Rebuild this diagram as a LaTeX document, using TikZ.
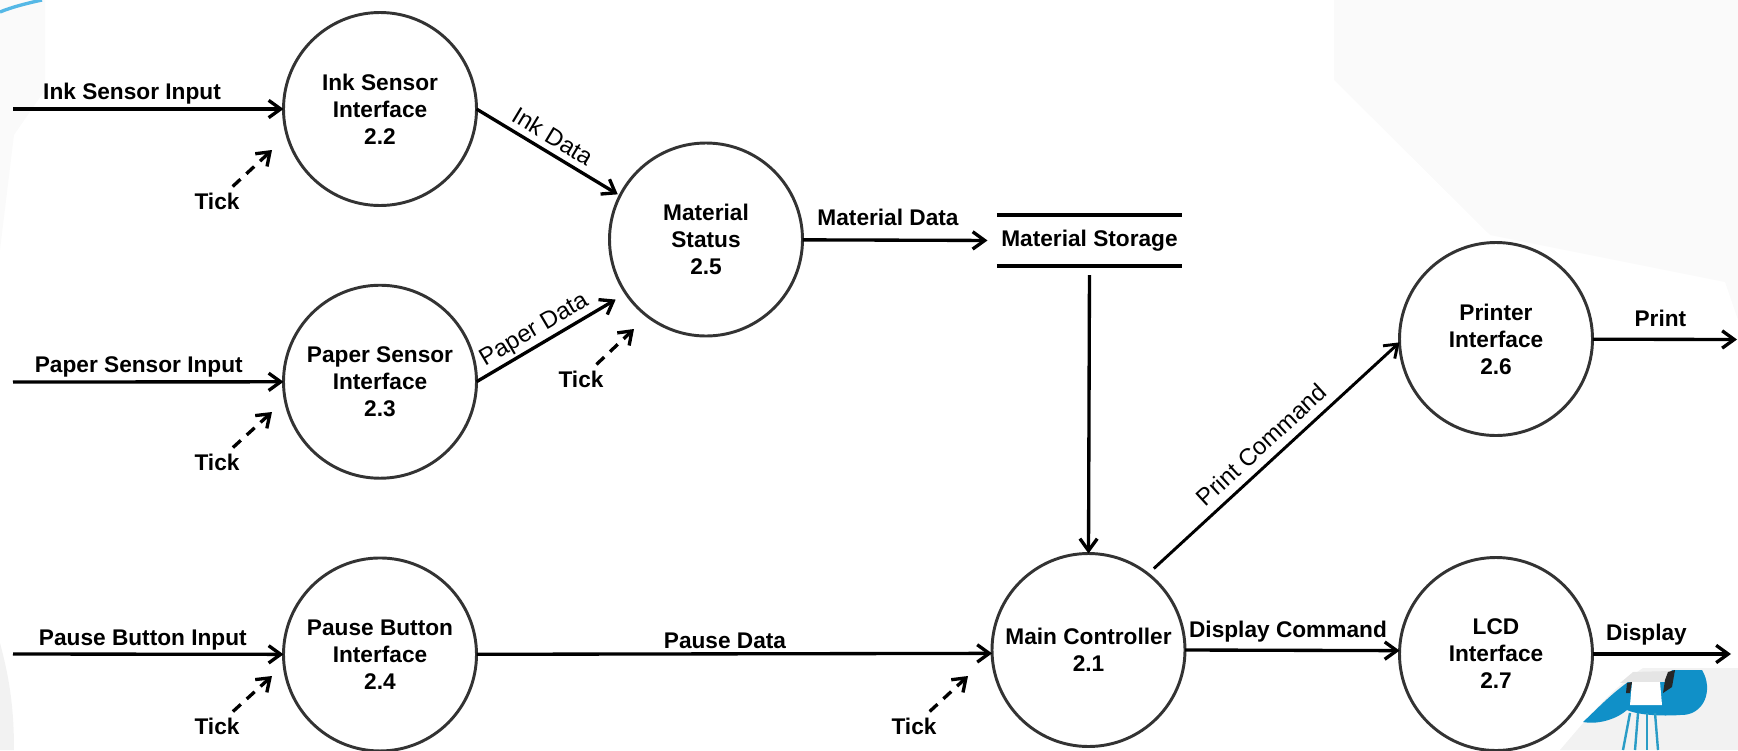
\documentclass[tikz,border=0pt]{standalone}
\usepackage{fontspec}
\setmainfont{Liberation Sans}
\usepackage{tikz}
\usetikzlibrary{arrows.meta, positioning}
\definecolor{logoblue}{HTML}{1090C8}
\definecolor{legblue}{HTML}{2A9CC6}
\definecolor{swoosh}{HTML}{55B8E6}

\begin{document}
\begin{tikzpicture}[
                                x=0.75pt,
                                y=-0.75pt,
                                ->,
                                >={Straight Barb[length=9pt,width=13pt]},
                                line width=2.5pt,
                                node distance=59.8pt and 160pt
                            ]
                            \tikzset{
                                bubble/.style = {circle, draw=black!80, line width=2.2pt, minimum size=144.75pt, inner sep=0pt, outer sep=0pt, align=center, execute at begin node={\rule{0pt}{21pt}}, font=\fontsize{17}{20.25}\selectfont\bfseries},
                                storelabel/.style = {minimum width=139pt, minimum height=38pt, inner sep=0pt, outer sep=0pt, font=\fontsize{17}{20.25}\selectfont\bfseries},
                                flowlabel/.style = {inner sep=2pt, font=\fontsize{17}{20.25}\selectfont\bfseries},
                                slopedlabel/.style = {sloped, inner sep=3pt, font=\fontsize{18}{20.25}\selectfont},
                                ticklabel/.style = {inner sep=0pt, font=\fontsize{17}{20.25}\selectfont\bfseries},
                                tickflow/.style = {dash pattern=on 8pt off 6pt, shorten <=5pt}
                            }
                            \useasboundingbox (0,0) rectangle (1738,750);

                            % Faint backdrop and logo
                            \fill[-, black!2] (1334,0) -- (1334,80) -- (1490,235) -- (1725,282) -- (1738,320) -- (1738,0) -- cycle;
                            \fill[-, black!2] (0,0) -- (45,0) -- (45,90) -- (14,135) -- (0,250) -- cycle;
                            \fill[-, black!5] (0,643) .. controls (10,680) and (14,710) .. (14,750) -- (0,750) -- cycle;
                            \fill[-, black!5] (1560,750) .. controls (1590,715) and (1610,690) .. (1643,668) -- (1738,668) -- (1738,750) -- cycle;
                            \draw[-, swoosh, line width=2.5pt] (0,12) .. controls (12,7) and (28,3) .. (42,0);
                            \fill[-, black!10] (1620,683) -- (1633,672) -- (1670,671) -- (1665,682) -- cycle;
                            \fill[-, logoblue] (1583,722) .. controls (1598,708) and (1610,695) .. (1628,682) -- (1665,682) -- (1672,670) -- (1702,670) .. controls (1714,690) and (1704,716) .. (1680,715) .. controls (1668,716) and (1640,716) .. (1627,710) .. controls (1618,718) and (1600,725) .. (1583,722) -- cycle;
                            \fill[-, white] (1632,682) -- (1660,682) -- (1662,705) -- (1630,705) -- cycle;
                            \fill[-, black!85] (1627,683) -- (1632,682) -- (1630,693) -- (1626,693) -- cycle;
                            \fill[-, black!85] (1665,680) -- (1668,672) -- (1675,670) -- (1672,687) -- (1663,693) -- cycle;
                            \draw[-, legblue, line width=1.8pt] (1630,713) -- (1623,750);
                            \draw[-, legblue, line width=1.8pt] (1638,713) -- (1635,750);
                            \draw[-, legblue, line width=1.8pt] (1647,713) -- (1647,750);
                            \draw[-, legblue, line width=1.8pt] (1655,713) -- (1658,750);

                            % Left column (sensors, button)
                            \node[bubble] (ink) at (380,109) {Ink Sensor\\Interface\\2.2};
                            \node[bubble, below=of ink] (paper) {Paper Sensor\\Interface\\2.3};
                            \node[bubble, below=of paper] (pause) {Pause Button\\Interface\\2.4};

                            % Middle and right
                            \node[bubble] (material) at (706,239.5) {Material\\Status\\2.5};
                            \node[storelabel] (storage) at (1089.5,240.5) {Material Storage};
                            \node[bubble] (main) at (1088.5,650) {Main Controller\\2.1};
                            \node[bubble] (lcd) at (1496,654) {LCD\\Interface\\2.7};
                            \node[bubble, above=91.5pt of lcd] (printer) {Printer\\Interface\\2.6};

                            % Free ends of the flows
                            \coordinate (inkin) at (13,109);
                            \coordinate (paperin) at (13,382);
                            \coordinate (pausein) at (13,654);
                            \coordinate (printout) at (1737,339.5);
                            \coordinate (displayout) at (1731,654);

                            % Inputs
                            \draw (inkin) -- node[above, pos=0.44, flowlabel] {Ink Sensor Input} (ink);
                            \draw (paperin) -- node[above, pos=0.465, flowlabel] {Paper Sensor Input} (paper);
                            \draw (pausein) -- node[above, pos=0.48, flowlabel] {Pause Button Input} (pause);

                            % Data flows
                            \draw[shorten >=2pt] (ink.east) -- node[above, slopedlabel, pos=0.475, inner sep=4.5pt] {Ink Data} (material.153);
                            \draw[shorten >=9pt] (paper.east) -- node[above, slopedlabel, pos=0.44, inner sep=1.5pt] {Paper Data} (material.214);
                            \draw[shorten >=7pt] (material) -- node[above, flowlabel, pos=0.44, yshift=7.5pt] {Material Data} (storage.west);
                            \draw (pause) -- node[above, flowlabel, pos=0.482, yshift=0.5pt] {Pause Data} (main.182);

                            % Store lines
                            \draw[-, line width=3pt] (storage.north west) -- (storage.north east);
                            \draw[-, line width=3pt] (storage.south west) -- (storage.south east);
                            \draw[shorten <=7pt] (storage.south) -- (main.north);

                            % Commands and outputs
                            \draw[shorten <=6pt, line width=2.2pt] (main.52) -- node[above, slopedlabel, pos=0.5, inner sep=6pt] {Print Command} (printer.182);
                            \draw (main.east) -- node[above, flowlabel, pos=0.48, yshift=3pt] {Display Command} (lcd.178);
                            \draw (printer) -- node[above, flowlabel, pos=0.47, yshift=6pt] {Print} (printout);
                            \draw (lcd) -- node[above, flowlabel, pos=0.39, yshift=3.3pt] {Display} (displayout);

                            % Ticks
                            \node[ticklabel] (inktick) at (217,201) {Tick};
                            \node[ticklabel] (papertick) at (217,462) {Tick};
                            \node[ticklabel] (pausetick) at (217,726) {Tick};
                            \node[ticklabel] (materialtick) at (581,379) {Tick};
                            \node[ticklabel] (maintick) at (914,726) {Tick};
                            \coordinate (inkdot) at (272,150);
                            \coordinate (paperdot) at (272,412);
                            \coordinate (pausedot) at (272,676);
                            \coordinate (materialdot) at (634,329);
                            \coordinate (maindot) at (968,676);
                            \draw[tickflow] (inktick) -- (inkdot);
                            \draw[tickflow] (papertick) -- (paperdot);
                            \draw[tickflow] (pausetick) -- (pausedot);
                            \draw[tickflow] (materialtick) -- (materialdot);
                            \draw[tickflow] (maintick) -- (maindot);

                        \end{tikzpicture}
\end{document}
